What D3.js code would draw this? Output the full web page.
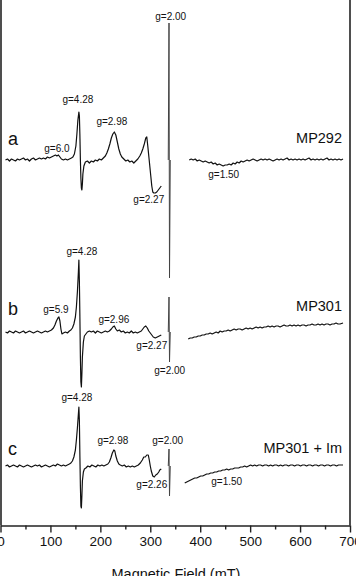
<!DOCTYPE html>
<html>
<head>
<meta charset="utf-8">
<script src="https://cdn.jsdelivr.net/npm/d3@7"></script>
<style>
  body { margin: 0; background: #fff; }
  text { font-family: "Liberation Sans", Arial, sans-serif; fill: #111; }
</style>
</head>
<body>
<svg id="vis"></svg>
<script>
// spectra: [field (mT), signal (a.u., relative to baseline)]
const aLeft = [[10,0],[14,1],[18,-1],[22,1],[26,0],[30,-1],[34,1],[38,0],[42,1],[46,2],[50,0],[54,1],[58,-1],[62,1],[66,2],[70,0],[74,1],[78,2],[82,1],[86,2],[90,1],[94,3],[98,2],[102,3],[106,4],[110,5],[113,4],[116,5],[119,3],[122,1],[126,0],[130,1],[134,0],[138,1],[142,2],[145,3],[148,6],[151,14],[153,26],[155,40],[157,48],[158,44],[159,25],[160,0],[161,-18],[162,-28],[163,-30],[164,-24],[165,-14],[167,-6],[170,-2],[174,-1],[178,-3],[182,-1],[186,-2],[190,0],[194,-1],[198,1],[202,0],[206,2],[210,4],[213,7],[216,11],[219,16],[222,22],[225,26],[228,28],[231,25],[234,18],[237,11],[240,6],[243,3],[247,1],[251,-1],[255,0],[259,-2],[263,-1],[267,-3],[271,-1],[275,1],[279,4],[282,7],[285,11],[288,16],[291,22],[293,23],[295,14],[297,4],[299,-6],[301,-16],[303,-26],[305,-32],[307,-33],[310,-33],[313,-32],[316,-30],[319,-28],[322,-26]];
const aSpike = [[336,0],[337.5,137],[338.5,-118],[340,0]];
const aRight = [[378,0],[382,1],[386,0],[390,1],[394,-1],[398,0],[402,-1],[406,-2],[410,-1],[414,-2],[418,-3],[422,-2],[426,-4],[430,-3],[434,-5],[438,-4],[442,-5],[446,-6],[450,-5],[454,-5],[458,-4],[462,-5],[466,-3],[470,-4],[474,-2],[478,-3],[482,-1],[486,-2],[490,-1],[494,0],[498,-1],[502,0],[506,1],[510,0],[514,-1],[518,0],[522,1],[526,0],[530,1],[534,0],[538,1],[542,0],[546,-1],[550,0],[554,1],[558,0],[562,1],[566,0],[570,1],[574,2],[578,0],[582,1],[586,0],[590,1],[594,0],[598,1],[602,0],[606,1],[610,0],[614,1],[618,2],[622,0],[626,1],[630,0],[634,1],[638,0],[642,1],[646,0],[650,1],[654,2],[658,0],[662,1],[666,0],[670,1],[674,0],[678,1],[682,0],[686,1]];

const bLeft = [[10,0],[14,-1],[18,1],[22,0],[26,-1],[30,1],[34,0],[38,-1],[42,0],[46,1],[50,-1],[54,0],[58,1],[62,0],[66,-1],[70,0],[74,1],[78,0],[82,-1],[86,0],[90,1],[94,0],[98,1],[102,2],[106,4],[109,7],[112,11],[115,14],[117,15],[119,11],[121,3],[123,-2],[126,-1],[130,0],[134,-1],[138,1],[141,2],[144,4],[147,8],[150,15],[152,25],[154,40],[156,60],[157,72],[158,50],[159,15],[160,-25],[161,-50],[162,-55],[163,-42],[164,-25],[166,-10],[168,-4],[171,-2],[174,0],[178,1],[182,0],[186,1],[190,-1],[194,1],[198,0],[202,-1],[206,0],[210,1],[214,0],[218,1],[222,3],[225,5],[228,6],[231,3],[234,1],[238,2],[242,0],[246,1],[250,-1],[254,0],[258,-1],[262,1],[266,-1],[270,0],[274,-1],[278,0],[282,1],[285,3],[288,5],[291,6],[294,4],[297,1],[300,-1],[303,-3],[306,-5],[310,-6],[314,-5],[318,-4],[322,-3]];
const bSpike = [[336,0],[337.5,35],[338.5,-30],[340,0]];
const bRight = [[376,-7],[380,-6],[384,-6],[388,-5],[392,-5],[396,-4],[400,-4],[404,-3],[408,-3],[412,-2],[416,-2],[420,-1],[424,-2],[428,-1],[432,0],[436,-1],[440,1],[444,0],[448,1],[452,1],[456,2],[460,1],[464,2],[468,3],[472,2],[476,3],[480,3],[484,2],[488,3],[492,4],[496,3],[500,4],[504,3],[508,4],[512,5],[516,4],[520,5],[524,4],[528,5],[532,5],[536,6],[540,5],[544,6],[548,5],[552,6],[556,6],[560,5],[564,6],[568,7],[572,6],[576,6],[580,7],[584,6],[588,7],[592,6],[596,7],[600,6],[604,7],[608,7],[612,6],[616,7],[620,7],[624,8],[628,7],[632,7],[636,8],[640,7],[644,8],[648,7],[652,8],[656,8],[660,7],[664,8],[668,8],[672,9],[676,8],[680,8],[686,9]];

const cLeft = [[10,0],[14,1],[18,-1],[22,0],[26,1],[30,0],[34,-1],[38,1],[42,0],[46,-1],[50,0],[54,1],[58,0],[62,-1],[66,0],[70,1],[74,0],[78,1],[82,-1],[86,0],[90,1],[94,0],[98,-1],[102,0],[106,1],[110,0],[114,2],[118,1],[122,0],[126,1],[130,0],[134,1],[138,2],[141,3],[144,5],[147,9],[150,16],[152,26],[154,38],[156,52],[157,59],[158,45],[159,10],[160,-20],[161,-40],[162,-42],[163,-30],[164,-15],[166,-6],[168,-3],[171,-2],[175,0],[179,-1],[183,1],[187,0],[191,-1],[195,1],[199,0],[203,1],[207,0],[211,1],[215,2],[218,4],[221,8],[224,13],[227,16],[229,15],[231,10],[234,5],[237,2],[240,1],[244,0],[248,1],[252,-1],[256,0],[260,-1],[264,0],[268,-1],[272,0],[276,1],[280,3],[284,6],[287,9],[290,9],[293,11],[296,11],[298,6],[300,0],[302,-5],[305,-10],[308,-11],[311,-9],[314,-8],[317,-6],[319,-4],[322,-3]];
const cSpike = [[336,0],[337.5,17],[338.5,-30],[340,0]];
const cRight = [[369,-17],[373,-16],[377,-15],[381,-14],[385,-13],[389,-12],[393,-12],[397,-11],[401,-10],[405,-10],[409,-9],[413,-8],[417,-8],[421,-7],[425,-7],[429,-6],[433,-6],[437,-5],[441,-5],[445,-4],[449,-4],[453,-3],[457,-4],[461,-3],[465,-3],[469,-2],[473,-2],[477,-2],[481,-1],[485,-1],[489,0],[493,-1],[497,0],[501,1],[505,0],[509,1],[513,0],[517,1],[521,1],[525,0],[529,1],[533,1],[537,0],[541,1],[545,0],[549,1],[553,1],[557,0],[561,1],[565,0],[569,1],[573,1],[577,0],[581,1],[585,1],[589,0],[593,1],[597,1],[601,0],[605,1],[609,1],[613,0],[617,1],[621,1],[625,0],[629,1],[633,1],[637,0],[641,1],[645,1],[649,0],[653,1],[657,1],[661,0],[665,1],[669,1],[673,0],[677,1],[681,1],[686,1]];

// g-value annotations: [text, field, signal]
const aNotes = [["g=2.00",341,144],["g=4.28",155,61],["g=2.98",223,39],["g=6.0",113,12],["g=1.50",447,-14],["g=2.27",297,-39]];
const bNotes = [["g=4.28",163,81],["g=5.9",111,23],["g=2.96",227,13],["g=2.27",303,-13],["g=2.00",339,-38]];
const cNotes = [["g=4.28",153,69],["g=2.98",225,26],["g=2.00",335,26],["g=2.26",303,-18],["g=1.50",453,-15]];

const sampleNames = ["MP292", "MP301", "MP301 + Im"];
const panelLetters = ["a", "b", "c"];
const fieldTicks = [0, 100, 200, 300, 400, 500, 600, 700];
const minorTicks = [50, 150, 250, 350, 450, 550, 650];

const W = 356, H = 576;
const AXIS_Y = 525.5;
const baselines = [160, 332, 466];

const svg = d3.select("#vis").attr("width", W).attr("height", H);

const x = d3.scaleLinear().domain([0, 700]).range([0.5, 350]);
const y = d3.scaleLinear().domain([-100, 100]).range([100, -100]);

const line = d3.line().x(d => x(d[0])).y(d => y(d[1]));

// frame
svg.append("line").attr("x1", 1).attr("x2", 1).attr("y1", -2).attr("y2", AXIS_Y)
    .attr("stroke", "#222").attr("stroke-width", 1.6);
svg.append("line").attr("x1", 350).attr("x2", 350).attr("y1", -2).attr("y2", AXIS_Y)
    .attr("stroke", "#222").attr("stroke-width", 1.6);

const traces = [
    {segs: [aLeft, aSpike, aRight], notes: aNotes},
    {segs: [bLeft, bSpike, bRight], notes: bNotes},
    {segs: [cLeft, cSpike, cRight], notes: cNotes}
];

traces.forEach(function(t, i) {
    const g = svg.append("g").attr("transform", "translate(0," + baselines[i] + ")");
    g.selectAll("path.seg")
        .data(t.segs)
        .enter()
        .append("path")
        .attr("class", "seg")
        .attr("d", line)
        .attr("fill", "none")
        .attr("stroke", (d, j) => j === 1 ? "#444" : "#111")
        .attr("stroke-width", (d, j) => j === 1 ? 1 : 1.2)
        .attr("stroke-linejoin", "round");

    g.selectAll("text.note")
        .data(t.notes)
        .enter()
        .append("text")
        .attr("class", "note")
        .attr("x", d => x(d[1]))
        .attr("y", d => y(d[2]))
        .attr("dy", "0.35em")
        .attr("text-anchor", "middle")
        .style("font-size", "10px")
        .text(d => d[0]);
});

// panel letters and sample names
const letterY = [145, 315, 455];
const nameY = [143, 311, 453];
svg.selectAll("text.letter")
    .data(panelLetters)
    .enter()
    .append("text")
    .attr("x", 8)
    .attr("y", (d, i) => letterY[i])
    .style("font-size", "18px")
    .text(d => d);
svg.selectAll("text.name")
    .data(sampleNames)
    .enter()
    .append("text")
    .attr("x", 342)
    .attr("y", (d, i) => nameY[i])
    .attr("text-anchor", "end")
    .style("font-size", "14.5px")
    .text(d => d);

// x axis
const axis = svg.append("g").attr("transform", "translate(0," + AXIS_Y + ")")
    .call(d3.axisBottom(x).tickValues(fieldTicks).tickSize(7).tickSizeOuter(0).tickPadding(4));
axis.select(".domain").attr("stroke", "#222").attr("stroke-width", 1.6);
axis.selectAll(".tick line").attr("stroke", "#222").attr("stroke-width", 1.4);
axis.selectAll(".tick text").style("font-size", "13.5px").style("font-family", "'Liberation Sans', Arial, sans-serif").attr("fill", "#111");

const minor = svg.append("g").attr("transform", "translate(0," + AXIS_Y + ")")
    .call(d3.axisBottom(x).tickValues(minorTicks).tickSize(4).tickFormat(""));
minor.select(".domain").remove();
minor.selectAll(".tick line").attr("stroke", "#222").attr("stroke-width", 1.4);

svg.append("text")
    .attr("x", 176)
    .attr("y", 579)
    .attr("text-anchor", "middle")
    .style("font-size", "14.5px")
    .text("Magnetic Field (mT)");
</script>
</body>
</html>
